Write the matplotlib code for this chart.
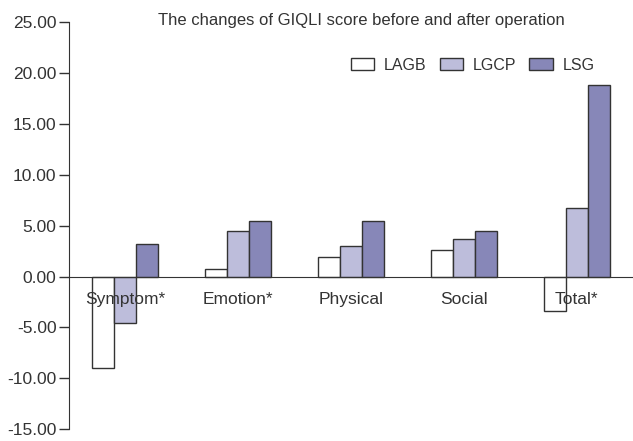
import numpy as np
import matplotlib.pyplot as plt

plt.rcParams['font.family'] = ['Liberation Sans', 'DejaVu Sans']

# Data
categories = ['Symptom*', 'Emotion*', 'Physical', 'Social', 'Total*']
lagb = [-8.95, 0.75, 1.95, 2.65, -3.40]
lgcp = [-4.60, 4.50, 3.05, 3.65, 6.70]
lsg = [3.20, 5.50, 5.45, 4.45, 18.85]
series_names = ['LAGB', 'LGCP', 'LSG']
colors = ['#FFFFFF', '#BDBDDB', '#8787B8']

text_color = '#333333'

fig = plt.figure(figsize=(6.33, 4.41), dpi=100)
ax = fig.add_axes([0.109, 0.0265, 0.891, 0.9235])

x = np.arange(len(categories))
w = 0.195
for i, (vals, name, c) in enumerate(zip([lagb, lgcp, lsg], series_names, colors)):
    ax.bar(x + (i - 1) * w, vals, width=w, color=c, edgecolor='#333333',
           linewidth=1.0, label=name, zorder=2)

ax.set_xlim(-0.5, 4.5)
ax.set_ylim(-15, 25)
ax.set_yticks(np.arange(-15, 26, 5))
ax.set_yticklabels([f'{v:.2f}' for v in np.arange(-15, 26, 5)])

ax.spines['top'].set_visible(False)
ax.spines['right'].set_visible(False)
ax.spines['bottom'].set_position(('data', 0))
ax.spines['bottom'].set_color('#333333')
ax.spines['bottom'].set_zorder(3)
ax.spines['left'].set_color('#333333')

ax.set_xticks([])
# category labels drawn over the bars, just below the zero line
for xi, cat in zip(x, categories):
    ax.text(xi, -2.25, cat, ha='center', va='center', fontsize=12.5,
            color=text_color, zorder=5)

ax.tick_params(axis='y', length=7, width=1, color='#333333', labelsize=12.5,
               labelcolor=text_color, pad=2)

ax.legend(loc='center', bbox_to_anchor=(0.716, 0.894), ncol=3, frameon=False,
          fontsize=11.5, handlelength=1.45, handleheight=0.8, handletextpad=0.65,
          columnspacing=0.8, labelcolor=text_color)

fig.text(361.5 / 633, 1 - 21 / 441, 'The changes of GIQLI score before and after operation',
         ha='center', va='center', fontsize=12, color=text_color)

fig.savefig('out.png', dpi=100)
